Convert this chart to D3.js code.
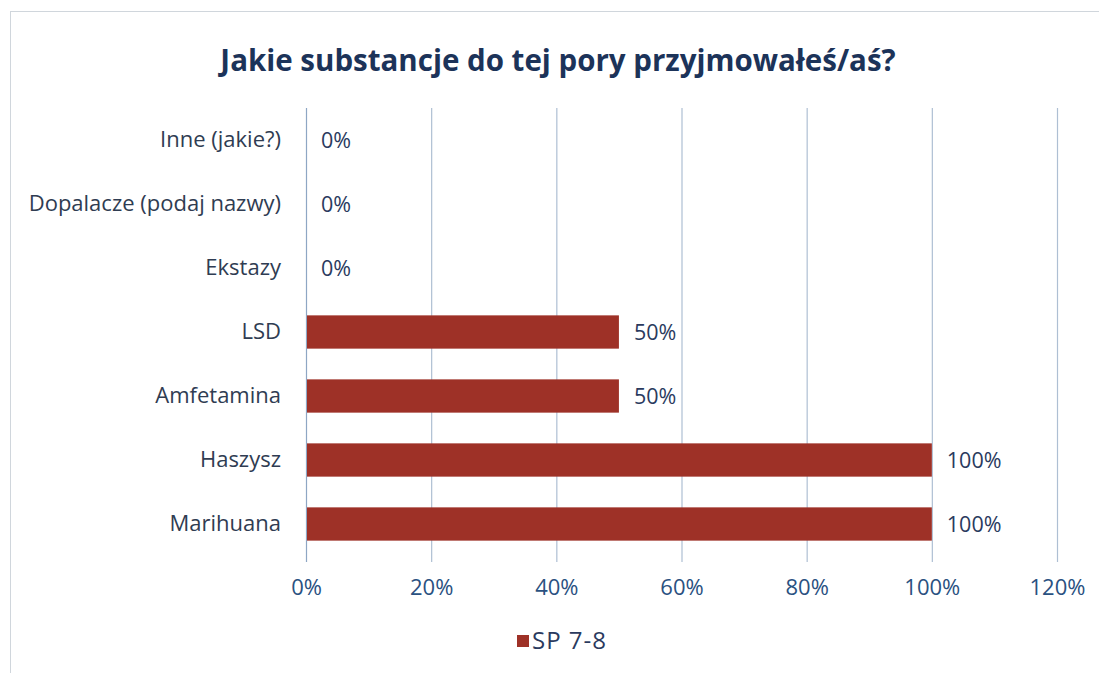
<html>
<head>
  <meta charset="UTF-8">
  <title>Jakie substancje</title>
  <script src="https://d3js.org/d3.v7.min.js"></script>
</head>
<style>
body { margin: 0; background: #fff; }
text { font-family: "Open Sans", Lato, sans-serif; }
</style>
<body>
<script>

var categories = ['Inne (jakie?)', 'Dopalacze (podaj nazwy)', 'Ekstazy', 'LSD', 'Amfetamina', 'Haszysz', 'Marihuana'];
var values = [0, 0, 0, 0.5, 0.5, 1, 1];
var ticks = [0, 0.2, 0.4, 0.6, 0.8, 1, 1.2];
var seriesName = 'SP 7-8';

var width = 1099,
    height = 673;

var font = '"Open Sans", Lato, sans-serif';

var svg = d3.select('body')
  .append('svg')
  .attr('width', width)
  .attr('height', height);

// outer chart frame
svg.append('rect')
  .attr('x', 10.5).attr('y', 11.5)
  .attr('width', 1095).attr('height', 680)
  .attr('fill', 'none')
  .attr('stroke', '#d0d6dc');

svg.append('text')
  .attr('x', 558).attr('y', 71)
  .attr('text-anchor', 'middle')
  .attr('font-size', 29.5)
  .attr('font-weight', 'bold')
  .attr('fill', '#1c3359')
  .text('Jakie substancje do tej pory przyjmowałeś/aś?');

var x = d3.scaleLinear()
  .domain([0, 1.2])
  .range([306, 1057]);

var y = d3.scaleBand()
  .domain(categories)
  .range([108, 556])
  .paddingInner(0.48)
  .paddingOuter(0.24);

// gridlines
svg.append('g')
  .selectAll('line')
  .data(ticks)
  .enter()
  .append('line')
  .attr('x1', function(d){ return x(d) + 0.5; })
  .attr('x2', function(d){ return x(d) + 0.5; })
  .attr('y1', 108)
  .attr('y2', 562)
  .attr('stroke', function(d){ return d === 0 ? '#8ea6c4' : '#aebfd3'; })
  .attr('stroke-width', 1.2);

// x axis labels
var xAxis = d3.axisBottom(x)
  .tickValues(ticks)
  .tickFormat(d3.format('.0%'))
  .tickSize(0)
  .tickPadding(0);

var gx = svg.append('g')
  .attr('transform', 'translate(0,579)')
  .call(xAxis);
gx.select('.domain').remove();
gx.selectAll('text')
  .attr('font-size', 22)
  .attr('fill', '#2a5181')
  .attr('font-family', font);

// y axis labels
var yAxis = d3.axisLeft(y)
  .tickSize(0)
  .tickPadding(0);

var gy = svg.append('g')
  .attr('transform', 'translate(281,0)')
  .call(yAxis);
gy.select('.domain').remove();
gy.selectAll('text')
  .attr('font-size', 22)
  .attr('fill', '#2f3c52')
  .attr('font-family', font);

// bars
svg.append('g')
  .selectAll('rect')
  .data(values)
  .enter()
  .append('rect')
  .attr('x', x(0) + 1)
  .attr('y', function(d, i){ return y(categories[i]); })
  .attr('width', function(d){ return Math.max(0, x(d) - x(0) - 1); })
  .attr('height', y.bandwidth())
  .attr('fill', '#9e3127');

// data labels
svg.append('g')
  .selectAll('text')
  .data(values)
  .enter()
  .append('text')
  .attr('x', function(d){ return x(d) + 15; })
  .attr('y', function(d, i){ return y(categories[i]) + y.bandwidth() / 2; })
  .attr('dy', '0.35em')
  .attr('font-size', 21.5)
  .attr('fill', '#2a3a5e')
  .text(function(d){ return d3.format('.0%')(d); });

// legend
var legend = svg.append('g').attr('transform', 'translate(517,641)');
legend.append('rect')
  .attr('x', 0).attr('y', -6)
  .attr('width', 12).attr('height', 12)
  .attr('fill', '#9e3127');
legend.append('text')
  .attr('x', 15).attr('y', 0)
  .attr('dy', '0.35em')
  .attr('font-size', 24)
  .attr('letter-spacing', 1)
  .attr('fill', '#2a3a5e')
  .text(seriesName);

</script>
</body>
</html>
